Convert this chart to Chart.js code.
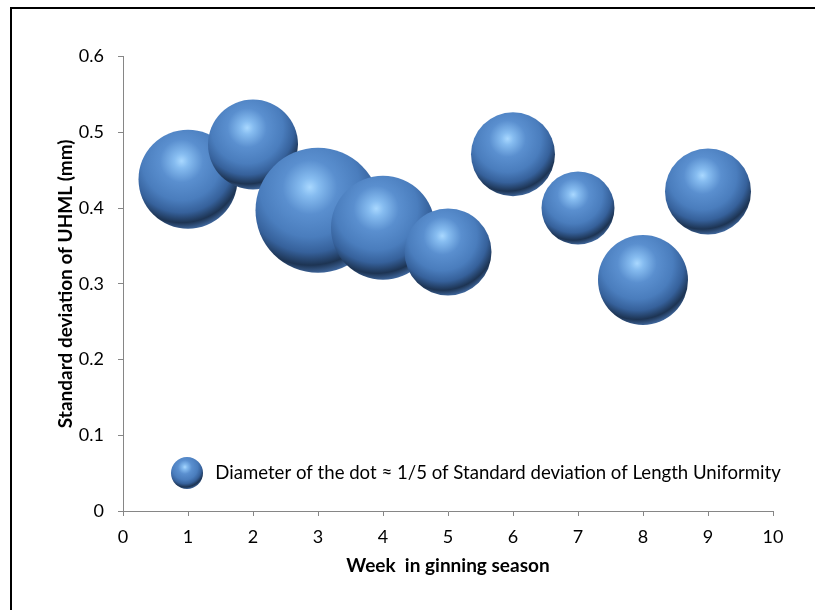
<!DOCTYPE html>
<html><head><meta charset="utf-8">
<script src="https://cdn.jsdelivr.net/npm/chart.js@4.4.1/dist/chart.umd.min.js"></script>
<style>
html,body{margin:0;padding:0;background:#fff;}
#wrap{position:relative;width:815px;height:610px;overflow:hidden;background:#fff;}
#frame{position:absolute;left:10px;top:7px;width:900px;height:700px;border-left:2px solid #000;border-top:2px solid #000;}
canvas{position:absolute;left:0;top:0;}
</style></head><body>
<div id="wrap"><div id="frame"></div><canvas id="c" width="815" height="610"></canvas></div>
<script>
// ---- data ----
const weeks = [1, 2, 3, 4, 5, 6, 7, 8, 9];
const sdUHML = [0.438, 0.484, 0.397, 0.374, 0.342, 0.471, 0.400, 0.305, 0.422];
const sdLengthUniformity = [0.99, 0.90, 1.25, 1.04, 0.87, 0.84, 0.73, 0.90, 0.86];
const xTickLabels = ['0','1','2','3','4','5','6','7','8','9','10'];
const yTickLabels = ['0','0.1','0.2','0.3','0.4','0.5','0.6'];
const xTitle = 'Week  in ginning season';
const yTitle = 'Standard deviation of UHML (mm)';
const legendText = 'Diameter of the dot \u2248 1/5 of Standard deviation of Length Uniformity';

// ---- styling ----
const DIAM_PX = 100;          // px of diameter per unit of size value
const FONT = 'Lato, Carlito, Calibri, sans-serif';
const AXIS_GRAY = '#868686';
const TICK_FS = 18, TITLE_FS = 19, LEG_FS = 18.6;

function sphereGradient(c, cx, cy, r) {
  const hx = cx - 0.13 * r, hy = cy - 0.37 * r;
  const g = c.createRadialGradient(hx, hy, 0, hx, hy, r * 1.45);
  g.addColorStop(0.00, '#a9d8ff');
  g.addColorStop(0.10, '#86bcf0');
  g.addColorStop(0.30, '#5a8fcf');
  g.addColorStop(0.55, '#4a7dbd');
  g.addColorStop(0.72, '#36619b');
  g.addColorStop(0.86, '#1d3453');
  g.addColorStop(0.95, '#3d6397');
  g.addColorStop(1.00, '#70a0da');
  return g;
}

function sphereFill(ctx) {
  const fallback = '#4F81BD';
  if (ctx.type !== 'data') return fallback;
  const chart = ctx.chart;
  const xs = chart.scales.x, ys = chart.scales.y;
  if (!xs || !ys) return fallback;
  const cx = xs.getPixelForValue(ctx.raw.x);
  const cy = ys.getPixelForValue(ctx.raw.y);
  const r = ctx.raw.r;
  if (!Number.isFinite(cx) || !Number.isFinite(cy) || !Number.isFinite(r) || r <= 0) return fallback;
  return sphereGradient(chart.ctx, cx, cy, r);
}

// legend icon
const ICON_R = 16;
const icon = document.createElement('canvas');
icon.width = ICON_R * 2 + 2; icon.height = ICON_R * 2 + 2;
(function(){
  const c = icon.getContext('2d');
  c.beginPath();
  c.arc(icon.width / 2, icon.height / 2, ICON_R, 0, Math.PI * 2);
  c.fillStyle = sphereGradient(c, icon.width / 2, icon.height / 2, ICON_R);
  c.fill();
})();

const LEG_ICON_CX = 187, LEG_CY = 473, LEG_BOX_W = 38;
const legendPlace = {
  id: 'legendPlace',
  afterLayout(chart) {
    const lg = chart.legend;
    if (!lg) return;
    const pad = lg.options.labels.padding;
    lg.left = LEG_ICON_CX - LEG_BOX_W / 2 - pad;
    lg.right = lg.left + 700;
    lg.top = LEG_CY - LEG_FS / 2 - pad;
    lg.bottom = lg.top + 60;
    lg.width = lg.right - lg.left;
    lg.height = lg.bottom - lg.top;
  }
};

function draw() {
  Chart.defaults.font.family = FONT;
  Chart.defaults.color = '#000';
  new Chart(document.getElementById('c'), {
    type: 'bubble',
    data: {
      datasets: [{
        label: legendText,
        data: weeks.map((w, i) => ({ x: w, y: sdUHML[i], r: sdLengthUniformity[i] * DIAM_PX / 2 })),
        backgroundColor: sphereFill,
        hoverBackgroundColor: sphereFill,
        borderWidth: 0,
        hoverBorderWidth: 0,
        hoverRadius: 0,
        clip: false
      }]
    },
    options: {
      responsive: false,
      animation: false,
      devicePixelRatio: 1,
      events: [],
      layout: { autoPadding: false, padding: { left: 54, right: 42, top: 18, bottom: 33 } },
      plugins: {
        tooltip: { enabled: false },
        legend: {
          display: true,
          position: 'top',
          align: 'start',
          labels: {
            usePointStyle: true,
            pointStyleWidth: LEG_BOX_W,
            padding: 10,
            color: '#000',
            font: { size: LEG_FS, family: FONT },
            generateLabels: (chart) => [{
              text: chart.data.datasets[0].label,
              pointStyle: icon,
              fillStyle: '#4F81BD',
              strokeStyle: 'rgba(0,0,0,0)',
              lineWidth: 0,
              hidden: false,
              datasetIndex: 0,
              fontColor: '#000'
            }]
          }
        }
      },
      scales: {
        x: {
          type: 'linear', min: 0, max: 10,
          ticks: { stepSize: 1, padding: 10, color: '#000', font: { size: TICK_FS }, maxRotation: 0,
                   callback: (v, i) => xTickLabels[i] },
          grid: { display: true, drawOnChartArea: false, drawTicks: true, tickLength: 5, color: AXIS_GRAY },
          border: { display: true, color: AXIS_GRAY, width: 1 },
          title: { display: true, text: xTitle, color: '#000', font: { size: TITLE_FS, weight: 'bold' }, padding: { top: 0, bottom: 0 } },
          afterFit: (s) => { s.height = 66; }
        },
        y: {
          type: 'linear', min: 0, max: 0.6,
          ticks: { stepSize: 0.1, padding: 14, color: '#000', font: { size: TICK_FS },
                   callback: (v, i) => yTickLabels[i] },
          grid: { display: true, drawOnChartArea: false, drawTicks: true, tickLength: 5, color: AXIS_GRAY },
          border: { display: true, color: AXIS_GRAY, width: 1 },
          title: { display: true, text: yTitle, color: '#000', font: { size: TITLE_FS, weight: 'bold' }, padding: { top: 0, bottom: 0 } },
          afterFit: (s) => { s.width = 69; }
        }
      }
    },
    plugins: [legendPlace]
  });
}

if (document.fonts && document.fonts.load) {
  Promise.all([document.fonts.load('18px Lato'), document.fonts.load('bold 19px Lato')])
    .then(draw, draw);
} else { draw(); }
</script>
</body></html>
